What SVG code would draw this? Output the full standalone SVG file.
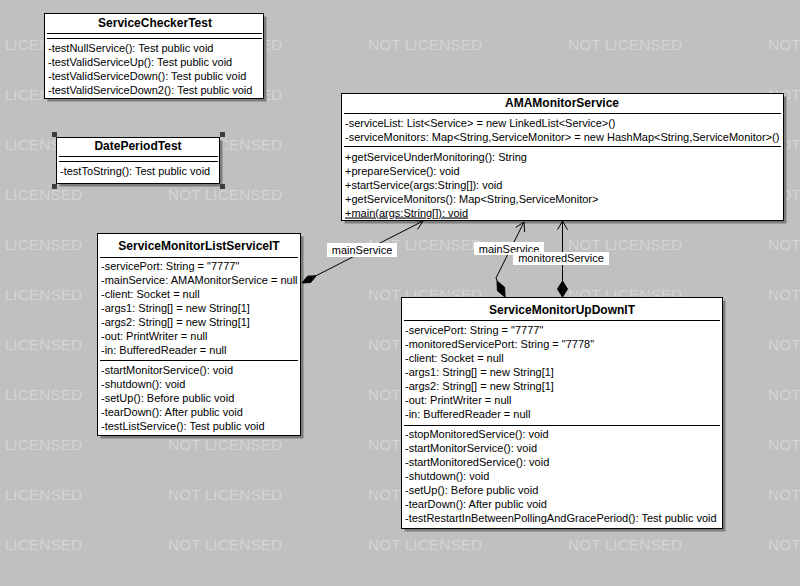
<svg xmlns="http://www.w3.org/2000/svg" width="800" height="586" viewBox="0 0 800 586">
<style>
.wm{font-family:"Liberation Sans",Arial,sans-serif;font-size:15.5px;fill:#d4d4d4}
.box{fill:#fff;stroke:#000;stroke-width:1}
.sh{fill:#7c7c7c}
.sep{stroke:#000;stroke-width:1}
.t{font-family:"Liberation Sans",Arial,sans-serif;font-size:11px;fill:#000}
.ti{font-family:"Liberation Sans",Arial,sans-serif;font-size:12px;font-weight:bold;fill:#000;text-anchor:middle}
.lbl{font-family:"Liberation Sans",Arial,sans-serif;font-size:11px;fill:#000;text-anchor:middle}
.ln{fill:none;stroke:#000;stroke-width:1}
.dia{fill:#000;stroke:#000;stroke-width:1}
.hd{fill:#3c3c3c}
</style>
<rect x="0" y="0" width="800" height="586" fill="#c0c0c0"/>
<g id="watermark">
<text class="wm" x="-32" y="49.5">NOT LICENSED</text><text class="wm" x="168" y="49.5">NOT LICENSED</text><text class="wm" x="368" y="49.5">NOT LICENSED</text><text class="wm" x="568" y="49.5">NOT LICENSED</text><text class="wm" x="768" y="49.5">NOT LICENSED</text>
<text class="wm" x="-32" y="99.5">NOT LICENSED</text><text class="wm" x="168" y="99.5">NOT LICENSED</text><text class="wm" x="768" y="99.5">NOT LICENSED</text>
<text class="wm" x="-32" y="149.5">NOT LICENSED</text><text class="wm" x="168" y="149.5">NOT LICENSED</text><text class="wm" x="768" y="149.5">NOT LICENSED</text>
<text class="wm" x="-32" y="199.5">NOT LICENSED</text><text class="wm" x="168" y="199.5">NOT LICENSED</text><text class="wm" x="768" y="199.5">NOT LICENSED</text>
<text class="wm" x="-32" y="249.5">NOT LICENSED</text><text class="wm" x="368" y="249.5">NOT LICENSED</text><text class="wm" x="568" y="249.5">NOT LICENSED</text><text class="wm" x="768" y="249.5">NOT LICENSED</text>
<text class="wm" x="-32" y="299.5">NOT LICENSED</text><text class="wm" x="368" y="299.5">NOT LICENSED</text><text class="wm" x="568" y="299.5">NOT LICENSED</text><text class="wm" x="768" y="299.5">NOT LICENSED</text>
<text class="wm" x="-32" y="349.5">NOT LICENSED</text><text class="wm" x="368" y="349.5">NOT LICENSED</text><text class="wm" x="768" y="349.5">NOT LICENSED</text>
<text class="wm" x="-32" y="399.5">NOT LICENSED</text><text class="wm" x="368" y="399.5">NOT LICENSED</text><text class="wm" x="768" y="399.5">NOT LICENSED</text>
<text class="wm" x="-32" y="449.5">NOT LICENSED</text><text class="wm" x="168" y="449.5">NOT LICENSED</text><text class="wm" x="368" y="449.5">NOT LICENSED</text><text class="wm" x="768" y="449.5">NOT LICENSED</text>
<text class="wm" x="-32" y="499.5">NOT LICENSED</text><text class="wm" x="168" y="499.5">NOT LICENSED</text><text class="wm" x="368" y="499.5">NOT LICENSED</text><text class="wm" x="768" y="499.5">NOT LICENSED</text>
<text class="wm" x="-32" y="549.5">NOT LICENSED</text><text class="wm" x="168" y="549.5">NOT LICENSED</text><text class="wm" x="368" y="549.5">NOT LICENSED</text><text class="wm" x="568" y="549.5">NOT LICENSED</text><text class="wm" x="768" y="549.5">NOT LICENSED</text>
</g>
<g id="ServiceCheckerTest">
<rect class="sh" x="47.5" y="16.5" width="219" height="85"/>
<rect class="box" x="44.5" y="13.5" width="219" height="85"/>
<text class="ti" x="155" y="27">ServiceCheckerTest</text>
<line class="sep" x1="47" y1="33.5" x2="262" y2="33.5"/>
<line class="sep" x1="47" y1="38.5" x2="262" y2="38.5"/>
<text class="t" x="48" y="52">-testNullService(): Test public void</text>
<text class="t" x="48" y="66">-testValidServiceUp(): Test public void</text>
<text class="t" x="48" y="80">-testValidServiceDown(): Test public void</text>
<text class="t" x="48" y="94">-testValidServiceDown2(): Test public void</text>
</g>
<g id="DatePeriodTest">
<rect class="sh" x="59.5" y="140.5" width="163" height="46"/>
<rect class="box" x="56.5" y="137.5" width="163" height="46"/>
<text class="ti" x="138" y="149.5">DatePeriodTest</text>
<line class="sep" x1="59" y1="156.5" x2="218" y2="156.5"/>
<line class="sep" x1="59" y1="161.5" x2="218" y2="161.5"/>
<text class="t" x="60" y="175">-testToString(): Test public void</text>
<rect class="hd" x="52" y="132" width="5" height="5"/>
<rect class="hd" x="220" y="132" width="5" height="5"/>
<rect class="hd" x="52" y="184" width="5" height="5"/>
<rect class="hd" x="220" y="184" width="5" height="5"/>
</g>
<g id="AMAMonitorService">
<rect class="sh" x="344.5" y="96.5" width="442" height="127"/>
<rect class="box" x="341.5" y="93.5" width="442" height="127"/>
<text class="ti" x="562" y="107">AMAMonitorService</text>
<line class="sep" x1="344" y1="113.5" x2="781" y2="113.5"/>
<text class="t" x="345" y="127">-serviceList: List&lt;Service&gt; = new LinkedList&lt;Service&gt;()</text>
<text class="t" x="345" y="141">-serviceMonitors: Map&lt;String,ServiceMonitor&gt; = new HashMap&lt;String,ServiceMonitor&gt;()</text>
<line class="sep" x1="344" y1="146.5" x2="781" y2="146.5"/>
<text class="t" x="345" y="161">+getServiceUnderMonitoring(): String</text>
<text class="t" x="345" y="175">+prepareService(): void</text>
<text class="t" x="345" y="189">+startService(args:String[]): void</text>
<text class="t" x="345" y="203">+getServiceMonitors(): Map&lt;String,ServiceMonitor&gt;</text>
<text class="t" x="345" y="216.5" text-decoration="underline">+main(args:String[]): void</text>
</g>
<g id="ServiceMonitorListServiceIT">
<rect class="sh" x="100.5" y="236.5" width="203" height="202"/>
<rect class="box" x="97.5" y="233.5" width="203" height="202"/>
<text class="ti" x="199" y="250">ServiceMonitorListServiceIT</text>
<line class="sep" x1="100" y1="257.5" x2="298" y2="257.5"/>
<text class="t" x="101" y="270">-servicePort: String = "7777"</text>
<text class="t" x="101" y="284">-mainService: AMAMonitorService = null</text>
<text class="t" x="101" y="298">-client: Socket = null</text>
<text class="t" x="101" y="312">-args1: String[] = new String[1]</text>
<text class="t" x="101" y="326">-args2: String[] = new String[1]</text>
<text class="t" x="101" y="340">-out: PrintWriter = null</text>
<text class="t" x="101" y="354">-in: BufferedReader = null</text>
<line class="sep" x1="100" y1="360.5" x2="298" y2="360.5"/>
<text class="t" x="101" y="374">-startMonitorService(): void</text>
<text class="t" x="101" y="388">-shutdown(): void</text>
<text class="t" x="101" y="402">-setUp(): Before public void</text>
<text class="t" x="101" y="416">-tearDown(): After public void</text>
<text class="t" x="101" y="430">-testListService(): Test public void</text>
</g>
<g id="ServiceMonitorUpDownIT">
<rect class="sh" x="404.5" y="300.5" width="321" height="231"/>
<rect class="box" x="401.5" y="297.5" width="321" height="231"/>
<text class="ti" x="562" y="314">ServiceMonitorUpDownIT</text>
<line class="sep" x1="404" y1="320.5" x2="720" y2="320.5"/>
<text class="t" x="405" y="334">-servicePort: String = "7777"</text>
<text class="t" x="405" y="348">-monitoredServicePort: String = "7778"</text>
<text class="t" x="405" y="362">-client: Socket = null</text>
<text class="t" x="405" y="376">-args1: String[] = new String[1]</text>
<text class="t" x="405" y="390">-args2: String[] = new String[1]</text>
<text class="t" x="405" y="404">-out: PrintWriter = null</text>
<text class="t" x="405" y="418">-in: BufferedReader = null</text>
<line class="sep" x1="404" y1="425.5" x2="720" y2="425.5"/>
<text class="t" x="405" y="438">-stopMonitoredService(): void</text>
<text class="t" x="405" y="452">-startMonitorService(): void</text>
<text class="t" x="405" y="466">-startMonitoredService(): void</text>
<text class="t" x="405" y="480">-shutdown(): void</text>
<text class="t" x="405" y="494">-setUp(): Before public void</text>
<text class="t" x="405" y="508">-tearDown(): After public void</text>
<text class="t" x="405" y="522">-testRestartInBetweenPollingAndGracePeriod(): Test public void</text>
</g>
<g id="connectors">
<polygon class="dia" points="302,283 307.5,276.2 316.2,275.7 310.7,282.5"/>
<line class="ln" x1="316.2" y1="275.7" x2="423" y2="221"/>
<polyline class="ln" points="413,220.5 423,221 417.6,229.4"/>
<rect x="327" y="243" width="70" height="14" fill="#fff"/>
<text class="lbl" x="362" y="254">mainService</text>
<polygon class="dia" points="505,297 504.6,287.2 497,281 497.4,290.8"/>
<polyline class="ln" points="497,281 496,278 524,222"/>
<polyline class="ln" points="515.7,227.5 524,222 524.6,232"/>
<rect x="474" y="242" width="70" height="13" fill="#fff"/>
<text class="lbl" x="509" y="252.5">mainService</text>
<polygon class="dia" points="562.5,297 567.5,289 562.5,281 557.5,289"/>
<line class="ln" x1="562.5" y1="281" x2="562.5" y2="221"/>
<polyline class="ln" points="557.5,229.7 562.5,221 567.5,229.7"/>
<rect x="513" y="252" width="96" height="13" fill="#fff"/>
<text class="lbl" x="561" y="262">monitoredService</text>
</g>
</svg>
